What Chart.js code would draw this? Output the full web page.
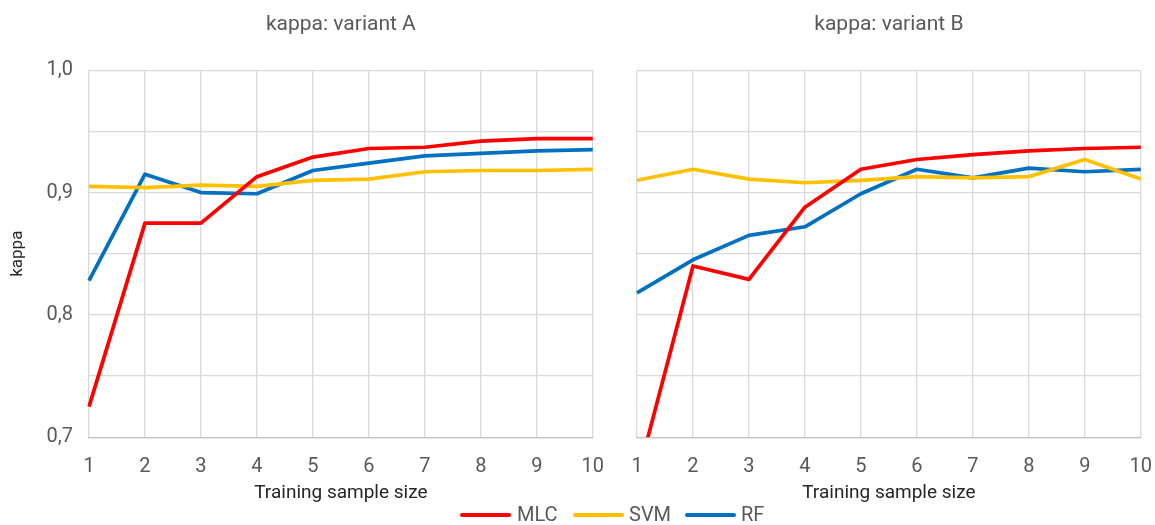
<!DOCTYPE html>
<html>
<head>
  <meta charset="utf-8">
  <title>kappa</title>
  <script src="https://cdn.jsdelivr.net/npm/chart.js@4.4.1/dist/chart.umd.min.js"></script>
  <style>
    body { margin: 0; background: #fff; font-family: Roboto, sans-serif; }
    #wrap { position: relative; width: 1155px; height: 525px; overflow: hidden; }
    .panel { position: absolute; top: 0; height: 509px; }
    #legend { position: absolute; left: 0; top: 503px; width: 1155px; height: 22px; }
    .item { position: absolute; top: 0; font-size: 20px; line-height: 22px; color: #595959; }
    .item i { position: absolute; top: 10px; height: 4px; width: 51px; border-radius: 2px; }
  </style>
</head>
<body>
<div id="wrap">
  <div class="panel" style="left:0;width:607px"><canvas id="chartA"></canvas></div>
  <div class="panel" style="left:607px;width:548px"><canvas id="chartB"></canvas></div>
  <div id="legend">
    <div class="item" style="left:460px"><i style="background:#ff0000"></i><span style="margin-left:57px">MLC</span></div>
    <div class="item" style="left:573px"><i style="background:#ffc000"></i><span style="margin-left:56px">SVM</span></div>
    <div class="item" style="left:685px"><i style="background:#0070c0"></i><span style="margin-left:56px">RF</span></div>
  </div>
</div>
<script>
// training sample size
var sizes = ['1', '2', '3', '4', '5', '6', '7', '8', '9', '10'];

// variant A
var mlcA = [0.725, 0.875, 0.875, 0.913, 0.929, 0.936, 0.937, 0.942, 0.944, 0.944];
var svmA = [0.905, 0.904, 0.906, 0.905, 0.910, 0.911, 0.917, 0.918, 0.918, 0.919];
var rfA  = [0.828, 0.915, 0.900, 0.899, 0.918, 0.924, 0.930, 0.932, 0.934, 0.935];

// variant B (MLC at 1 is below the axis, gets clipped)
var mlcB = [0.666, 0.840, 0.829, 0.888, 0.919, 0.927, 0.931, 0.934, 0.936, 0.937];
var svmB = [0.910, 0.919, 0.911, 0.908, 0.910, 0.913, 0.912, 0.913, 0.927, 0.911];
var rfB  = [0.818, 0.845, 0.865, 0.872, 0.899, 0.919, 0.912, 0.920, 0.917, 0.919];

var yMin = 0.7, yMax = 1.0, yStep = 0.05;

var gridColor = '#d9d9d9';
var textGrey = '#595959';

function series(label, data, color) {
    return {
        label: label,
        data: data,
        borderColor: color,
        backgroundColor: color,
        borderWidth: 3.7,
        pointRadius: 0,
        tension: 0,
        borderJoinStyle: 'round'
    };
}

function makeConfig(title, mlc, svm, rf, showY) {
    return {
        type: 'line',
        data: {
            labels: sizes,
            datasets: [
                series('MLC', mlc, '#ff0000'),
                series('SVM', svm, '#ffc000'),
                series('RF', rf, '#0070c0')
            ]
        },
        options: {
            responsive: true,
            maintainAspectRatio: false,
            animation: false,
            layout: {
                padding: showY ? { left: 4, right: 13, top: 0, bottom: 0 } : { left: 30, right: 14, top: 0, bottom: 0 }
            },
            plugins: {
                legend: { display: false },
                tooltip: { enabled: false },
                title: {
                    display: true,
                    text: title,
                    fullSize: false,
                    color: textGrey,
                    font: { family: 'Roboto', size: 21, weight: 'normal' },
                    padding: { top: 12, bottom: 33 }
                }
            },
            scales: {
                x: {
                    offset: false,
                    // invisible tick marks just push the labels down
                    grid: { color: gridColor, lineWidth: 1.3, drawTicks: true, tickLength: 15, tickColor: 'rgba(0,0,0,0)' },
                    border: { color: '#c4c4c4', width: 1.3 },
                    ticks: { color: textGrey, padding: 3, font: { family: 'Roboto', size: 20 }, maxRotation: 0 },
                    title: {
                        display: true,
                        text: 'Training sample size',
                        color: '#262626',
                        font: { family: 'Roboto', size: 19 },
                        padding: { top: 0, bottom: 4 }
                    }
                },
                y: {
                    min: yMin,
                    max: yMax,
                    grid: { color: gridColor, lineWidth: 1.3, drawTicks: false },
                    border: { display: false },
                    ticks: {
                        display: showY,
                        stepSize: yStep,
                        padding: 16,
                        color: textGrey,
                        font: { family: 'Roboto', size: 20 },
                        callback: function(value) {
                            var t = value * 10;
                            if (Math.abs(t - Math.round(t)) > 1e-6) return '';
                            return value.toFixed(1).replace('.', ',');
                        }
                    },
                    title: {
                        display: showY,
                        text: 'kappa',
                        color: '#262626',
                        font: { family: 'Roboto', size: 17 },
                        padding: { top: 4, bottom: 4 }
                    },
                    afterFit: function(scale) {
                        scale.width = showY ? 85 : 0;
                    }
                }
            }
        }
    };
}

window.chartA = new Chart(document.getElementById('chartA'), makeConfig('kappa: variant A', mlcA, svmA, rfA, true));
window.chartB = new Chart(document.getElementById('chartB'), makeConfig('kappa: variant B', mlcB, svmB, rfB, false));
</script>
</body>
</html>
